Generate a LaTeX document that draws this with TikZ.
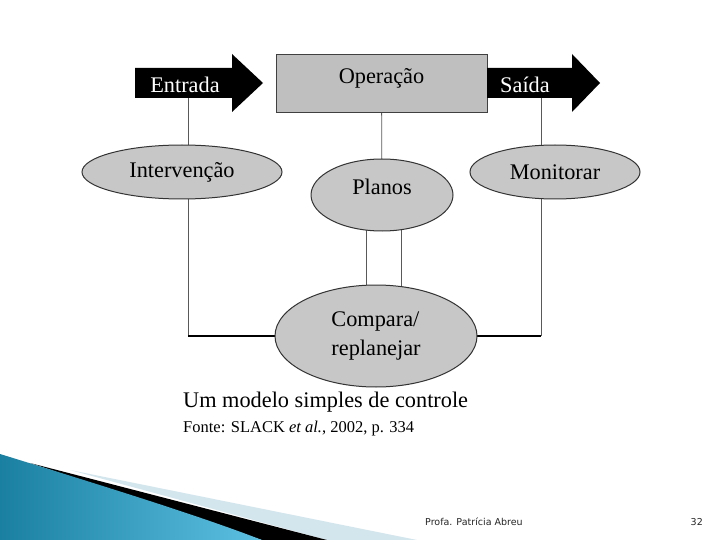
\documentclass[tikz,border=0pt]{standalone}
\usepackage{fontspec}
\setmainfont{Liberation Serif}
\newfontfamily\footfont{DejaVu Sans}
\usetikzlibrary{shapes.geometric,positioning,backgrounds}
\definecolor{tealdeep}{HTML}{1A80A2}
\definecolor{tealsky}{HTML}{5CC0E2}
\definecolor{paleband}{HTML}{D4E6ED}

\begin{document}
\begin{tikzpicture}[x=1pt, y=-1pt,
      font=\fontsize{22.3}{29}\selectfont,
      flowarrow/.style={fill=black},
      armtext/.style={text=white, inner sep=0pt},
      opbox/.style={draw=black!75, fill=black!25, minimum width=211pt,
                    minimum height=58pt, text height=14pt, text depth=12pt},
      stage/.style={ellipse, draw=black!80, line width=1pt, fill=black!22, inner sep=0pt},
      link/.style={draw=black!65, line width=0.8pt},
      tie/.style={draw=black, line width=1.6pt},
      caption/.style={anchor=west, inner sep=0pt},
      foot/.style={font=\footfont\fontsize{9.5}{11}\selectfont, text=black!85, inner sep=0pt}]
    % top row
    \fill[flowarrow] (135,68) -- (232,68) -- (232,54) -- (263,83) -- (232,112) -- (232,98) -- (135,98) -- cycle;
    \node[armtext] (enttxt) at (185,85) {Entrada};
    \node[opbox] (op) at (381.5,83) {Operação};
    \fill[flowarrow] (487,68) -- (572,68) -- (572,54) -- (600,83) -- (572,112) -- (572,98) -- (487,98) -- cycle;
    \node[armtext] (saitxt) at (525,85) {Saída};
    % ellipses
    \node[stage, minimum width=200pt, minimum height=54pt] (int) at (182,172) {Intervenção};
    \node[stage, minimum width=142pt, minimum height=72pt, text height=15pt, text depth=15pt] (pln) at (382,195) {Planos};
    \node[stage, minimum width=170pt, minimum height=54pt] (mon) at (555,172) {Monitorar};
    \node[stage, minimum width=202pt, minimum height=102pt, align=left] (cmp) at (376,336) {Compara/\\replanejar};
    \coordinate (xl) at (188,0);
    \coordinate (xr) at (541,0);
    \begin{scope}[on background layer]
      \fill[white] (0,0) rectangle (720,540);
      \draw[link] (xl |- enttxt.center) -- (xl |- cmp.center);
      \draw[tie] (xl |- cmp.center) -- (cmp.center);
      \draw[link] (op.center) -- (pln.center);
      \draw[link] ([xshift=-16pt]pln.center) -- ([xshift=-16pt]pln.center |- cmp.center);
      \draw[link] ([xshift=19pt]pln.center) -- ([xshift=19pt]pln.center |- cmp.center);
      \draw[link] (xr |- saitxt.center) -- (xr |- cmp.center);
      \draw[tie] (xr |- cmp.center) -- (cmp.center);
    \end{scope}
    % caption
    \node[caption] (cap) at (183,402) {Um modelo simples de controle};
    \node[caption, font=\fontsize{16.5}{20}\selectfont, below=9pt of cap.south west,
          anchor=north west] (src) {Fonte: SLACK \textit{et al.}, 2002, p. 334};
    % slide footer
    \fill[paleband] (70,470) -- (417,540) -- (327,540) -- cycle;
    \fill[black] (30,463) -- (327,540) -- (262,540) -- cycle;
    \shade[left color=tealdeep, right color=tealsky]
      (0,454) .. controls (110,488) and (200,516) .. (262,540) -- (0,540) -- cycle;
    \node[foot, anchor=west] (author) at (425,522) {Profa. Patrícia Abreu};
    \node[foot, anchor=east] (page) at (703,522) {32};
\end{tikzpicture}
\end{document}
